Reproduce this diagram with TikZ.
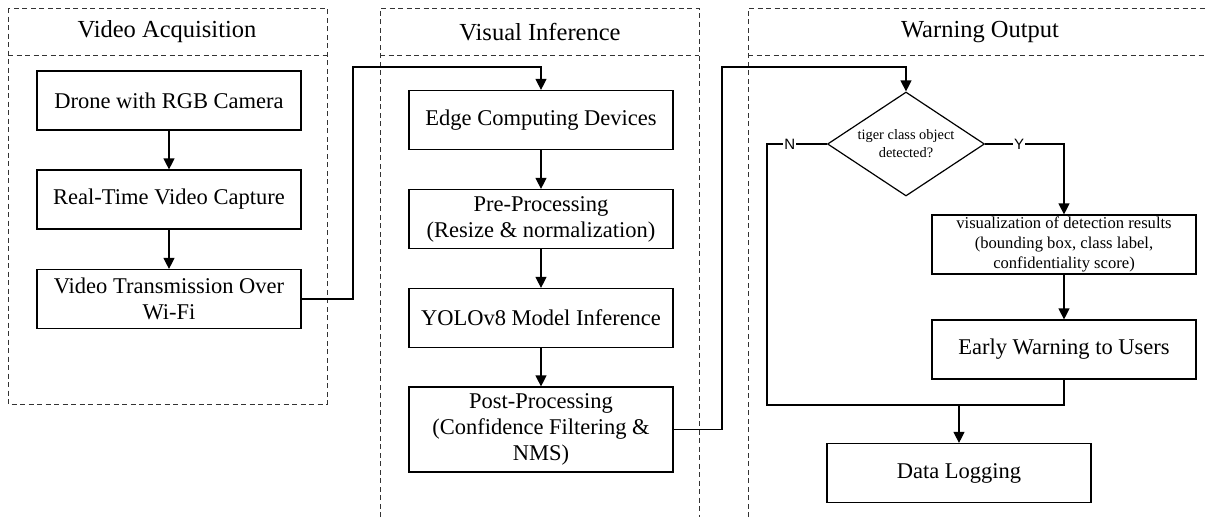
\documentclass[tikz,border=0pt]{standalone}
\usepackage{fontspec}
\setmainfont{Liberation Serif}
\setsansfont{Liberation Sans}
\usetikzlibrary{shapes.geometric,arrows.meta,calc}
\tikzset{
  panel/.style={draw=black!80, line width=0.8pt, dash pattern=on 5pt off 3.5pt},
  stepbox/.style={draw, line width=1.2pt, minimum width=264, minimum height=59, align=center, inner sep=0pt, font=\fontsize{22.5}{26}\selectfont},
  smallbox/.style={stepbox, font=\fontsize{16.6}{20}\selectfont},
  decision/.style={draw, diamond, line width=1.2pt, minimum width=157, minimum height=104, inner sep=0pt, aspect=1.5, align=center, font=\fontsize{14.4}{18}\selectfont},
  conn/.style={line width=1.2pt, -{Triangle[length=11pt,width=11pt]}},
  line/.style={line width=1.2pt},
  head/.style={font=\fontsize{24.5}{28}\selectfont},
  yn/.style={fill=white, inner sep=1pt, font=\sffamily\fontsize{15}{17}\selectfont}
}
\begin{document}
\begin{tikzpicture}[x=1pt,y=-1pt]
\useasboundingbox (0,0) rectangle (1206,517);
% panels
\draw[panel] (8,8) rectangle (327,404);
\draw[panel] (8,55) -- (327,55);
\draw[panel] (380,517) -- (380,8) -- (699,8) -- (699,517);
\draw[panel] (380,55) -- (699,55);
\draw[panel] (748,517) -- (748,8) -- (1206,8);
\draw[panel] (748,55) -- (1206,55);
\node[head] (h1) at (167,32) {Video Acquisition};
\node[head] (h2) at (540,32) {Visual Inference};
\node[head] (h3) at (980,32) {Warning Output};
% boxes
\node[stepbox] (d1) at (169,100.5) {Drone with RGB Camera};
\node[stepbox] (d2) at (169,199.5) {Real-Time Video Capture};
\node[stepbox] (d3) at (169,299) {Video Transmission Over\\Wi-Fi};
\node[stepbox] (e1) at (541,120) {Edge Computing Devices};
\node[stepbox] (e2) at (541,219) {Pre-Processing\\(Resize \& normalization)};
\node[stepbox] (e3) at (541,318) {YOLOv8 Model Inference};
\node[stepbox, minimum height=85] (e4) at (541,429.5) {Post-Processing\\(Confidence Filtering \&\\NMS)};
\node[decision] (dia) at (906,144) {tiger class object\\detected?};
\node[smallbox] (vis) at (1064,244.5) {visualization of detection results\\(bounding box, class label,\\confidentiality score)};
\node[stepbox] (warn) at (1064,349.5) {Early Warning to Users};
\node[stepbox] (log) at (959,473) {Data Logging};
% junctions
\coordinate (j1) at (353,67);
\coordinate (j2) at (722,67);
\coordinate (nL) at (767,144);
\coordinate (j3) at (1064,405);
\coordinate (j4) at (959,405);
% connectors
\draw[conn] (d1) -- (d2);
\draw[conn] (d2) -- (d3);
\draw[conn] (d3.east) -| (j1) -| (e1.north);
\draw[conn] (e1) -- (e2);
\draw[conn] (e2) -- (e3);
\draw[conn] (e3) -- (e4);
\draw[conn] (e4.east) -| (j2) -| (dia.north);
\draw[conn] (dia.east) -| node[yn, pos=0.215] {Y} (vis.north);
\draw[conn] (vis) -- (warn);
\draw[line] (dia.west) -- node[yn, pos=0.62] {N} (nL) |- (j3) -- (warn.south);
\draw[conn] (j4) -- (log.north);
\end{tikzpicture}
\end{document}
